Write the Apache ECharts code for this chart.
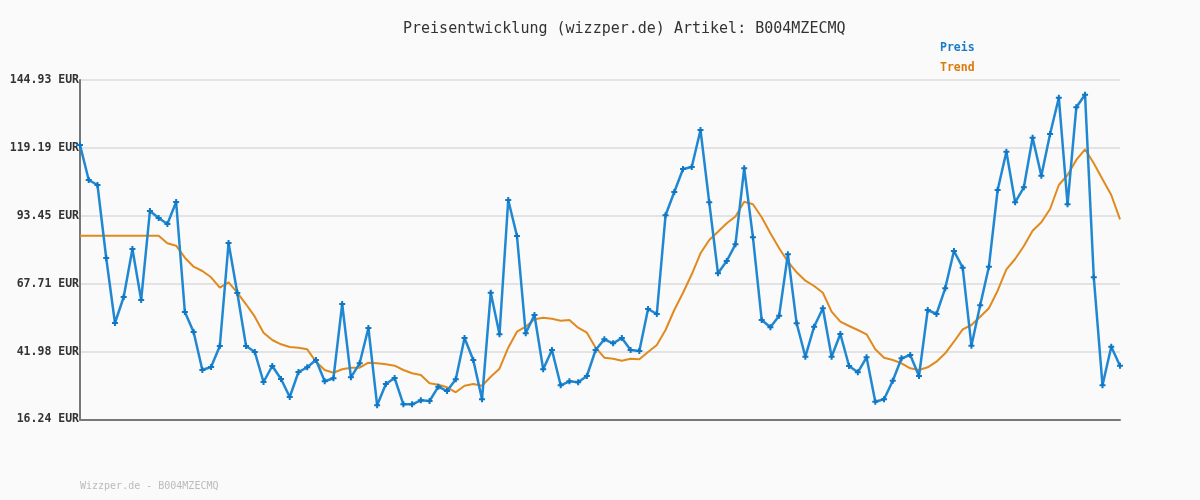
<!DOCTYPE html>
<html>
<head>
<meta charset="utf-8">
<script src="https://cdn.jsdelivr.net/npm/echarts@6/dist/echarts.min.js"></script>
<style>
html,body{margin:0;padding:0;background:#fafafa;}
#c{width:1200px;height:500px;}
</style>
</head>
<body>
<div id="c"></div>
<script>
const titleText = 'Preisentwicklung (wizzper.de) Artikel: B004MZECMQ';
const footerText = 'Wizzper.de - B004MZECMQ';
const seriesNames = ['Preis', 'Trend'];
const yTicks = [16.24, 41.98, 67.71, 93.45, 119.19, 144.93];

const preis = [
120.29,107.02,105.13,77.46,52.82,62.67,80.87,61.54,95.27,92.62,
90.35,98.68,56.99,49.41,35.00,36.14,44.10,83.14,64.19,44.10,
41.83,30.45,36.52,31.59,24.77,34.24,36.03,38.79,30.72,31.86,
60.02,32.24,37.54,50.92,21.62,29.70,31.97,22.00,22.00,23.52,
23.25,28.67,27.04,31.48,47.13,38.79,23.90,64.30,48.53,99.44,
85.80,48.91,55.85,35.27,42.58,29.20,30.72,30.34,32.73,42.58,
46.64,45.12,47.13,42.58,42.20,58.13,56.23,93.64,102.48,111.19,
111.95,125.98,98.57,71.66,76.32,82.65,111.46,85.30,53.96,51.19,
55.59,78.86,52.71,40.04,51.42,58.39,40.04,48.65,36.52,34.13,
39.82,22.99,23.90,30.95,39.44,40.69,32.73,57.75,56.23,65.97,
80.11,73.78,44.21,59.53,74.16,103.23,117.75,98.57,104.26,123.06,
108.65,124.46,138.22,97.81,134.58,139.36,70.14,29.20,43.83,36.63
];

const trend = [
85.91,85.91,85.91,85.91,85.91,85.91,85.91,85.91,85.91,85.91,
83.03,82.12,77.57,74.16,72.53,70.14,66.20,68.25,64.30,59.91,
55.21,49.14,46.37,44.74,43.72,43.46,42.85,38.15,35.00,33.98,
35.27,35.87,35.87,37.77,37.54,37.16,36.63,35.00,33.75,33.11,
29.96,29.43,28.45,26.55,29.05,29.70,29.05,32.46,35.50,43.46,
49.52,51.42,54.22,54.83,54.45,53.69,53.96,51.04,49.14,43.46,
39.66,39.29,38.53,39.29,39.06,41.83,44.48,50.16,57.75,64.30,
71.28,79.24,84.28,87.43,90.61,93.19,98.80,97.81,92.89,86.82,
81.13,76.06,72.04,68.85,66.84,64.30,57.10,53.31,51.68,50.16,
48.53,42.85,39.66,38.79,37.54,35.65,35.00,36.03,38.15,41.33,
45.73,50.43,52.06,55.21,58.39,65.06,73.17,77.08,82.01,87.81,
90.99,96.03,105.13,108.92,114.61,118.66,113.35,107.29,101.34,92.13
];

const categories = preis.map((_, i) => String(i + 1));

const mono = '"DejaVu Sans Mono", "Liberation Mono", monospace';
const chart = echarts.init(document.getElementById('c'), null, {renderer: 'canvas'});
chart.setOption({
  backgroundColor: '#fafafa',
  animation: false,
  title: {
    text: titleText,
    left: 398,
    top: 17,
    textStyle: {fontFamily: mono, fontSize: 15, fontWeight: 'normal', color: '#333'}
  },
  legend: {
    data: [
      {name: seriesNames[0], textStyle: {color: '#1a7cc7'}},
      {name: seriesNames[1], textStyle: {color: '#dc7a0c'}}
    ],
    orient: 'vertical',
    left: 930,
    top: 37,
    itemWidth: 0,
    itemHeight: 0,
    itemGap: 8,
    icon: 'none',
    selectedMode: false,
    textStyle: {fontFamily: mono, fontSize: 11.5, fontWeight: 'bold'}
  },
  graphic: [{
    type: 'text',
    left: 80,
    top: 481,
    style: {text: footerText, font: '10px ' + mono, fill: '#bbbbbb'}
  }],
  grid: {left: 80, right: 80, top: 80, bottom: 80.5, containLabel: false},
  xAxis: {
    type: 'category',
    data: categories,
    boundaryGap: false,
    axisLine: {show: true, lineStyle: {color: '#777', width: 2}},
    axisTick: {show: false},
    axisLabel: {show: false},
    splitLine: {show: false}
  },
  yAxis: {
    type: 'value',
    min: yTicks[0],
    max: yTicks[yTicks.length - 1],
    axisLine: {show: true, lineStyle: {color: '#777', width: 2}},
    axisTick: {show: false, customValues: yTicks},
    axisLabel: {
      customValues: yTicks,
      margin: 1,
      formatter: v => v.toFixed(2) + ' EUR',
      fontFamily: mono, fontSize: 11.5, fontWeight: 'bold', color: '#333'
    },
    splitLine: {show: true, lineStyle: {color: '#e3e3e3', width: 2}}
  },
  series: [
    {
      name: seriesNames[0],
      type: 'line',
      data: preis,
      z: 3,
      symbol: 'path://M2,0H4V2H6V4H4V6H2V4H0V2H2Z',
      symbolSize: 6,
      showSymbol: true,
      showAllSymbol: true,
      itemStyle: {color: '#0f77c4'},
      lineStyle: {color: '#2088d2', width: 2.5}
    },
    {
      name: seriesNames[1],
      type: 'line',
      data: trend,
      z: 2,
      symbol: 'none',
      itemStyle: {color: '#e08a1e'},
      lineStyle: {color: '#e08a1e', width: 2}
    }
  ]
});
</script>
</body>
</html>
